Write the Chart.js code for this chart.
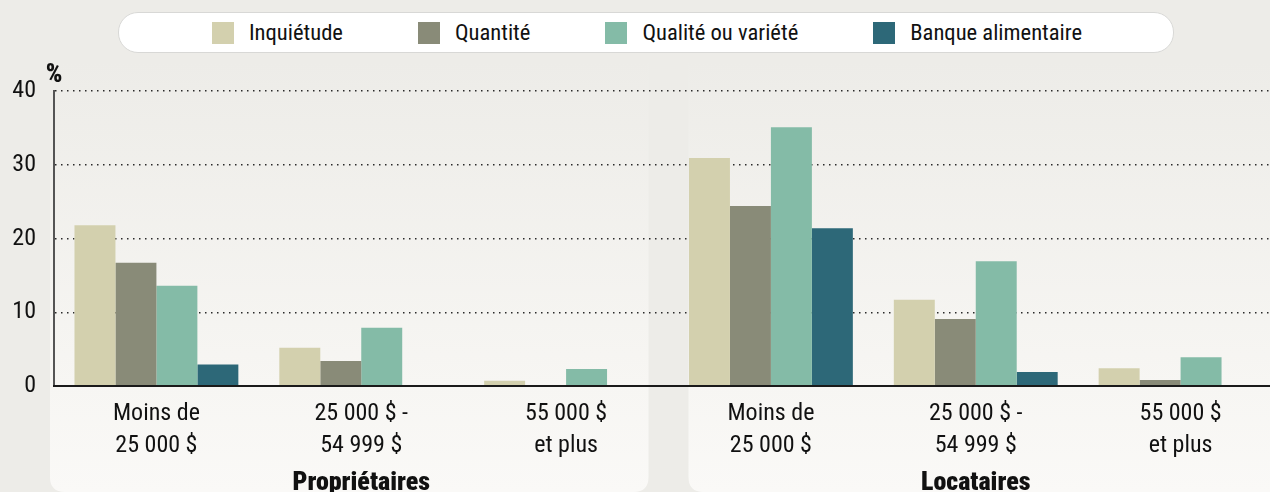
<!DOCTYPE html>
<html lang="fr">
<head>
<meta charset="utf-8">
<script src="https://cdn.jsdelivr.net/npm/chart.js@4.4.1/dist/chart.umd.min.js"></script>
<style>
  html, body { margin: 0; padding: 0; background: #edece8; overflow: hidden; width: 1270px; height: 492px; }
  #wrap { position: absolute; left: 0; top: 0; width: 1290px; height: 492px; }
  #legend {
    position: absolute; left: 118px; top: 12px; width: 1053px; height: 38px;
    background: #ffffff; border: 1.5px solid #d8d8d6; border-radius: 20px;
    display: flex; align-items: center; justify-content: center; gap: 75px;
    padding-left: 2px; box-sizing: border-box; height: 41px; width: 1056px;
    font-family: "Roboto Condensed", "Roboto", sans-serif; font-stretch: condensed;
    font-size: 22.6px; color: #111; z-index: 2;
  }
  .item { display: flex; align-items: center; white-space: nowrap; }
  .sw { width: 22px; height: 22px; margin-right: 15px; }
</style>
</head>
<body>
<div id="wrap"><canvas id="c" width="1290" height="492"></canvas></div>
<div id="legend"></div>
<script>
const FONT = '"Roboto Condensed", "Roboto", sans-serif';

const categories = [
  ['Moins de', '25 000 $'], ['25 000 $ -', '54 999 $'], ['55 000 $', 'et plus'],
  ['Moins de', '25 000 $'], ['25 000 $ -', '54 999 $'], ['55 000 $', 'et plus']
];
const groups = ['Propriétaires', 'Locataires'];
const seriesNames = ['Inquiétude', 'Quantité', 'Qualité ou variété', 'Banque alimentaire'];
const inquietude = [21.8, 5.2, 0.7, 30.9, 11.7, 2.4];
const quantite   = [16.7, 3.4, 0, 24.4, 9.1, 0.8];
const qualite    = [13.6, 7.9, 2.3, 35.1, 16.9, 3.9];
const banque     = [2.9, 0, 0, 21.4, 1.9, 0];
const yTicks = [0, 10, 20, 30, 40];
const colors = ['#d3d0ae', '#898b78', '#84bba7', '#2d6878'];

// HTML legend
const leg = document.getElementById('legend');
seriesNames.forEach((n, i) => {
  const it = document.createElement('div'); it.className = 'item';
  const sw = document.createElement('div'); sw.className = 'sw'; sw.style.background = colors[i];
  const t = document.createElement('span'); t.textContent = n;
  it.appendChild(sw); it.appendChild(t); leg.appendChild(it);
});

const panelsPlugin = {
  id: 'panels',
  beforeDraw(chart) {
    const {ctx, chartArea} = chart;
    const x = chart.scales.x;
    const cw = x.getPixelForValue(1) - x.getPixelForValue(0);
    const top = chartArea.top - 30, bottom = 492, r = 15;
    const g = ctx.createLinearGradient(0, top, 0, bottom);
    g.addColorStop(0, '#edece8');
    g.addColorStop((chartArea.bottom - top) / (bottom - top), '#f7f6f3');
    g.addColorStop(1, '#faf9f7');
    const panels = [
      [chartArea.left - 4, x.getPixelForValue(2) + cw / 2 - 20],
      [x.getPixelForValue(3) - cw / 2 + 20, 1320]
    ];
    ctx.save();
    ctx.fillStyle = g;
    panels.forEach(([l, rr]) => {
      ctx.beginPath();
      ctx.moveTo(l, top);
      ctx.lineTo(rr, top);
      ctx.lineTo(rr, bottom - r);
      ctx.quadraticCurveTo(rr, bottom, rr - r, bottom);
      ctx.lineTo(l + r, bottom);
      ctx.quadraticCurveTo(l, bottom, l, bottom - r);
      ctx.closePath();
      ctx.fill();
    });
    ctx.restore();
  },
  afterDraw(chart) {
    const {ctx, chartArea} = chart;
    const x = chart.scales.x;
    ctx.save();
    ctx.fillStyle = '#111';
    ctx.font = '900 26px ' + FONT;
    ctx.textBaseline = 'alphabetic';
    ctx.textAlign = 'center';
    ctx.fillText('%', chartArea.left, 82);
    ctx.fillText(groups[0], (x.getPixelForValue(0) + x.getPixelForValue(2)) / 2, 490);
    ctx.fillText(groups[1], (x.getPixelForValue(3) + x.getPixelForValue(5)) / 2, 490);
    ctx.restore();
  }
};

new Chart(document.getElementById('c'), {
  type: 'bar',
  data: {
    labels: categories,
    datasets: [
      { label: seriesNames[0], data: inquietude, backgroundColor: colors[0] },
      { label: seriesNames[1], data: quantite, backgroundColor: colors[1] },
      { label: seriesNames[2], data: qualite, backgroundColor: colors[2] },
      { label: seriesNames[3], data: banque, backgroundColor: colors[3] }
    ]
  },
  options: {
    responsive: false,
    animation: false,
    events: [],
    datasets: { bar: { barPercentage: 1.0, categoryPercentage: 0.8, borderWidth: 0 } },
    layout: { padding: { top: 91, right: 7, left: 0, bottom: 0 } },
    plugins: { legend: { display: false }, tooltip: { enabled: false } },
    scales: {
      x: {
        grid: { display: false },
        border: { display: true, color: '#1a1a1a', width: 2, z: 1 },
        ticks: {
          color: '#111', font: { family: FONT, size: 24, lineHeight: '32px' },
          padding: 4, maxRotation: 0, autoSkip: false
        },
        afterFit(s) { s.height = 106; }
      },
      y: {
        min: 0, max: 40,
        afterBuildTicks(s) { s.ticks = yTicks.map(v => ({ value: v })); },
        grid: {
          drawTicks: false,
          color: ctx => ctx.tick && ctx.tick.value === 0 ? 'rgba(0,0,0,0)' : '#2a2a2a',
          lineWidth: 1.5
        },
        border: { display: true, color: '#555', width: 2, dash: [1.5, 4.5] },
        ticks: { color: '#111', font: { family: FONT, size: 24 }, padding: 18 },
        afterFit(s) { s.width = 54; }
      }
    }
  },
  plugins: [panelsPlugin]
});
</script>
</body>
</html>
